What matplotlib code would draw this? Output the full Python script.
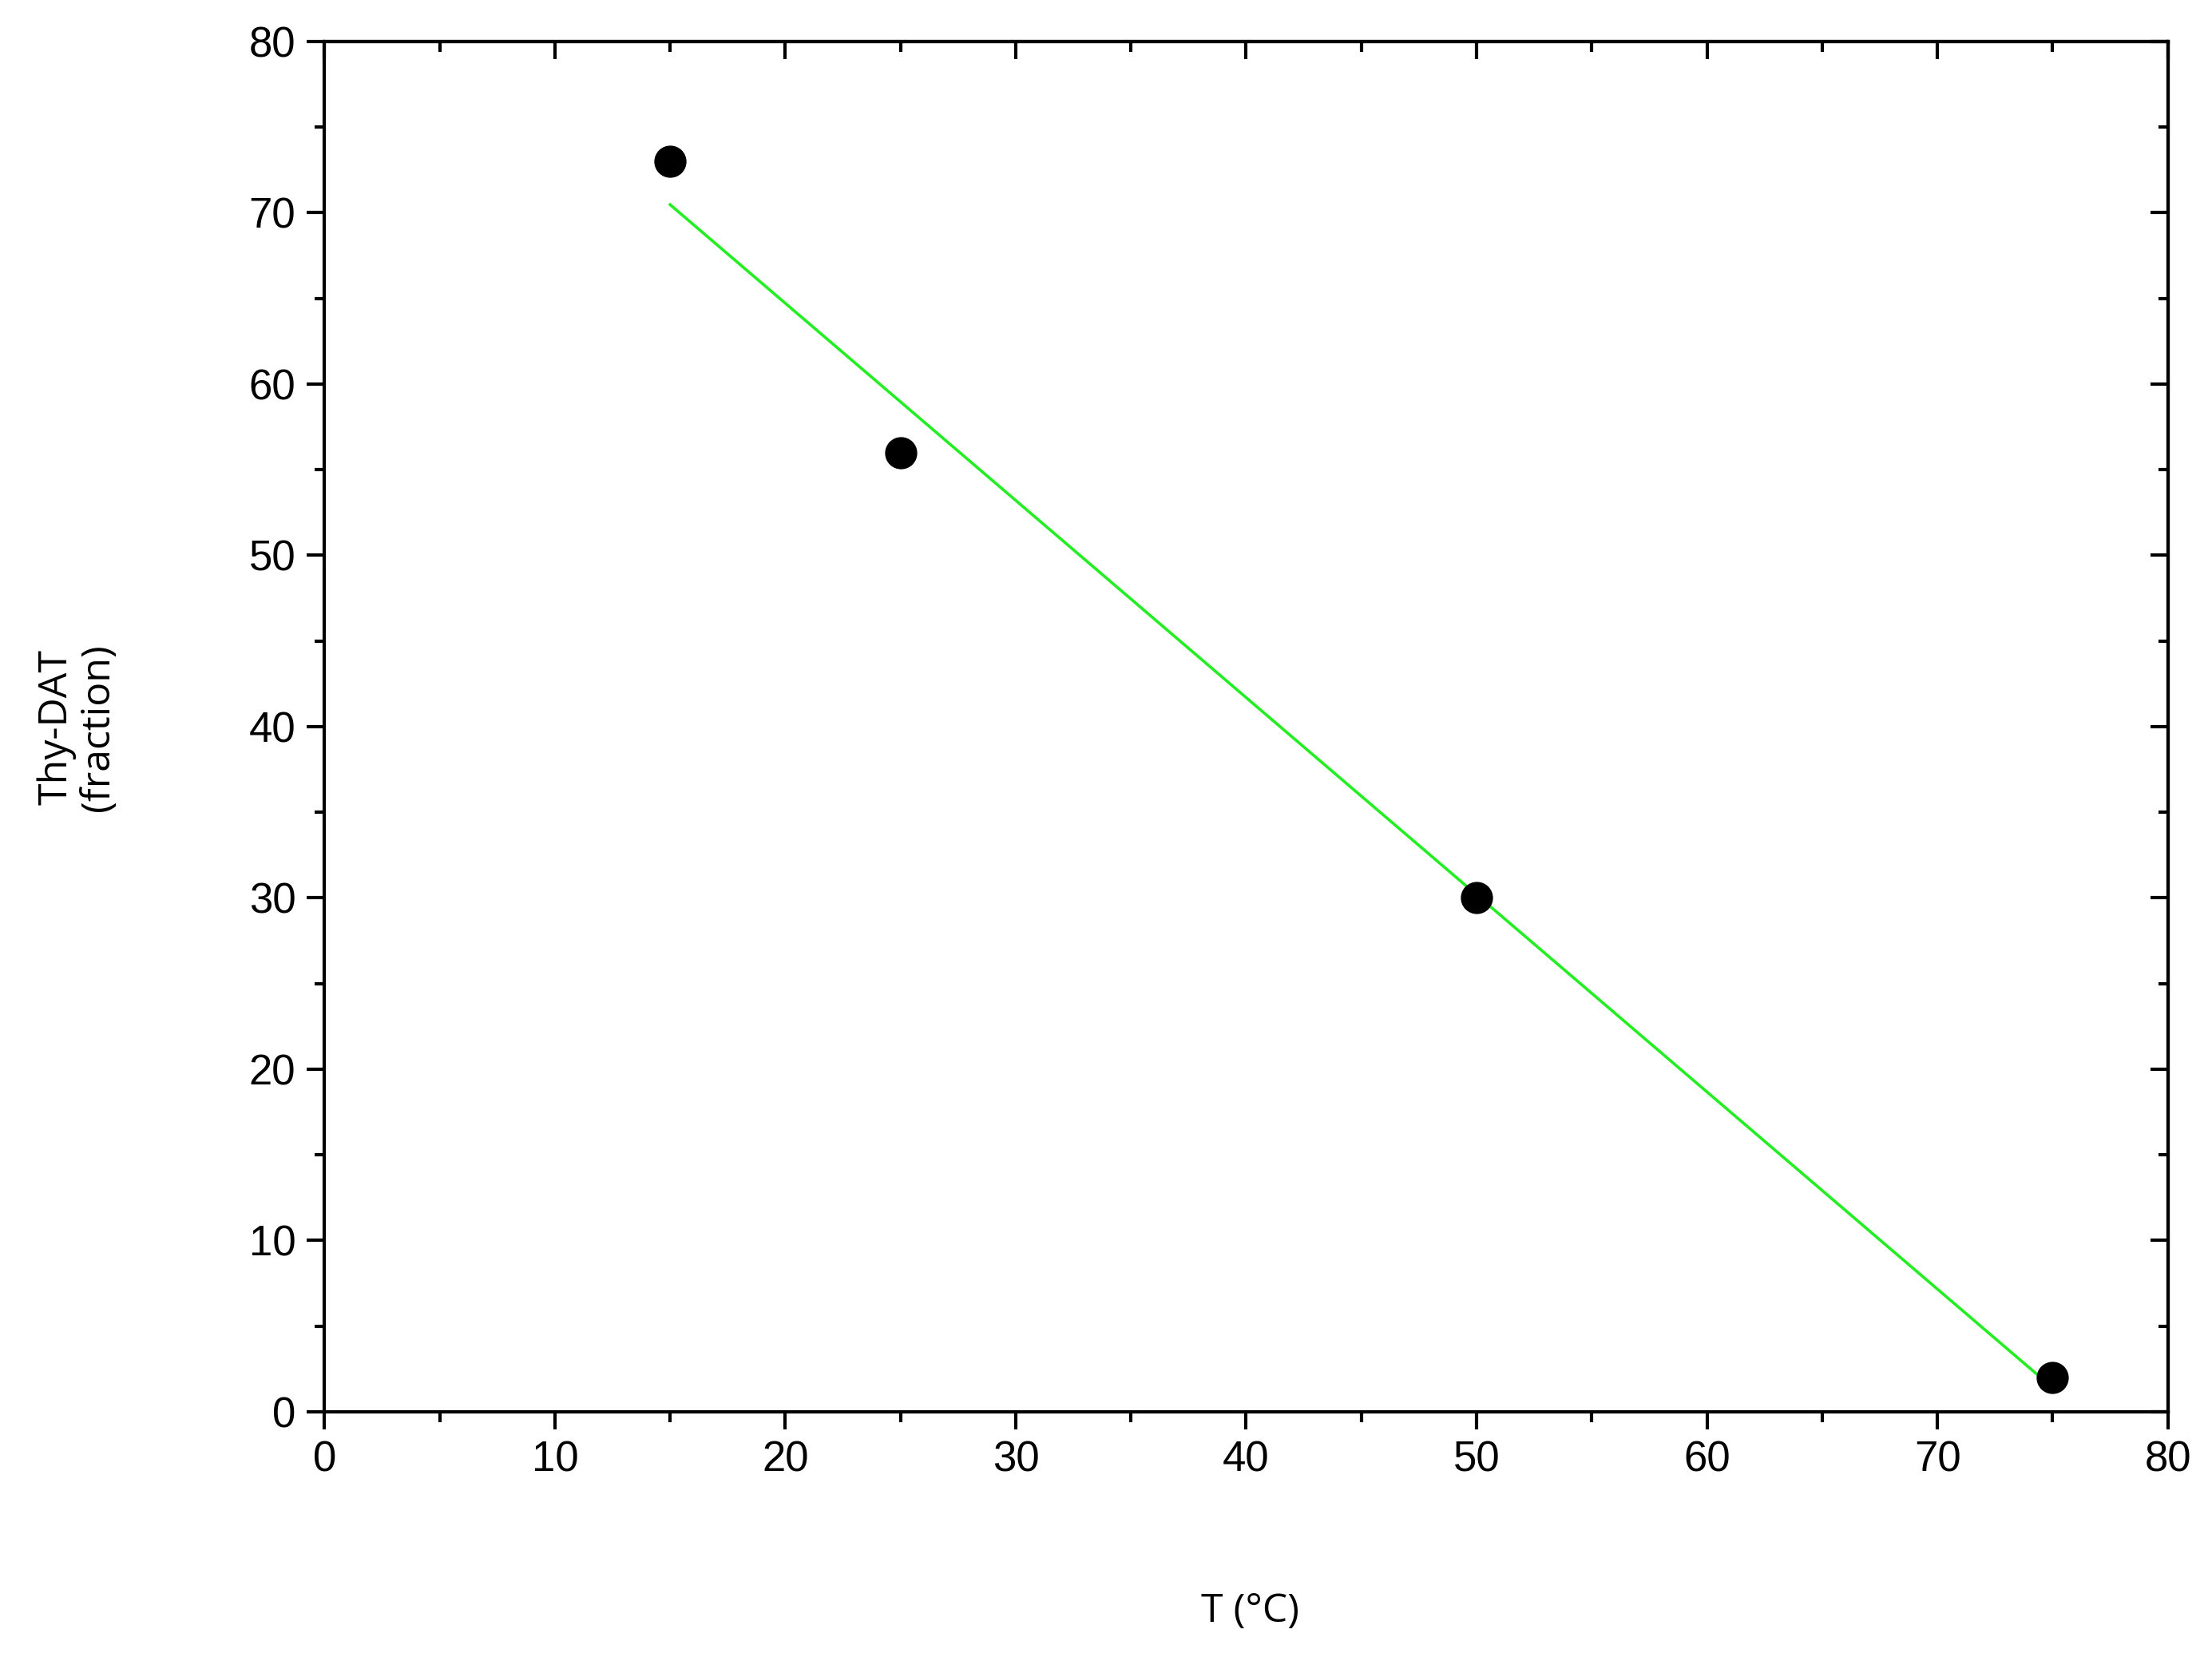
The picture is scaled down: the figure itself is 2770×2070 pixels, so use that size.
import matplotlib
matplotlib.use("Agg")
import matplotlib.pyplot as plt
import numpy as np

temps = [15, 25, 50, 75]
fraction = [73, 56, 30, 2]
xticks = [0, 10, 20, 30, 40, 50, 60, 70, 80]
yticks = [0, 10, 20, 30, 40, 50, 60, 70, 80]

fig = plt.figure(figsize=(27.7, 20.7), dpi=100)
ax = fig.add_axes([0.1467, 0.146, 0.980 - 0.1467, 0.975 - 0.146])

x = np.array(temps, float); y = np.array(fraction, float)
m, b = np.polyfit(x, y, 1)
ax.plot([x.min(), x.max()], [m * x.min() + b, m * x.max() + b], color="#22ee22", lw=2.6, zorder=2)
ax.plot(temps, fraction, "o", color="black", ms=28, zorder=3)

ax.set_xlim(0, 80); ax.set_ylim(0, 80)
ax.set_xticks(xticks); ax.set_yticks(yticks)
ax.set_xticks(np.arange(5, 80, 10), minor=True)
ax.set_yticks(np.arange(5, 80, 10), minor=True)
tickfont = dict(family="Liberation Sans", size=38)
ax.set_xticklabels([str(v) for v in xticks], fontdict=tickfont)
ax.set_yticklabels([str(v) for v in yticks], fontdict=tickfont)
ax.tick_params(which="major", direction="out", length=16, width=3, pad=10)
ax.tick_params(which="minor", direction="out", length=9, width=3)
for s in ax.spines.values():
    s.set_linewidth(3)

sx = ax.secondary_xaxis("top")
sy = ax.secondary_yaxis("right")
sx.set_xticks(xticks); sx.set_xticks(np.arange(5, 80, 10), minor=True); sx.set_xticklabels([])
sy.set_yticks(yticks); sy.set_yticks(np.arange(5, 80, 10), minor=True); sy.set_yticklabels([])
for sec in (sx, sy):
    sec.tick_params(which="major", direction="in", length=16, width=3)
    sec.tick_params(which="minor", direction="in", length=9, width=3)
    for s in sec.spines.values():
        s.set_linewidth(3)

fig.text(0.565, 0.025, "T (°C)", ha="center", va="center", family="Open Sans", fontsize=36)
fig.text(0.035, 0.56, "Thy-DAT\n(fraction)", ha="center", va="center", rotation=90,
         family="Open Sans", fontsize=36, linespacing=1.1)

fig.savefig("out.png", dpi=100)
